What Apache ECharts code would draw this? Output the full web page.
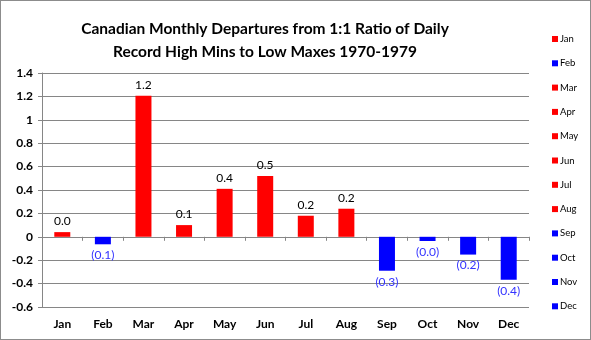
<!DOCTYPE html>
<html>
<head>
<meta charset="utf-8">
<script src="https://cdn.jsdelivr.net/npm/echarts@6/dist/echarts.min.js"></script>
<style>
  html, body { margin: 0; padding: 0; background: #fff; }
  #chart { width: 589px; height: 338px; border: 1px solid #8c8c8c; }
</style>
</head>
<body>
<div id="chart"></div>
<script>
// Monthly departures from a 1:1 ratio of record high minimums to record low maximums, Canada 1970-1979
const months = ['Jan', 'Feb', 'Mar', 'Apr', 'May', 'Jun', 'Jul', 'Aug', 'Sep', 'Oct', 'Nov', 'Dec'];
const departures = [0.04, -0.064, 1.206, 0.10, 0.41, 0.52, 0.18, 0.24, -0.29, -0.036, -0.152, -0.367];
const barColors = ['#ff0000', '#0000ff', '#ff0000', '#ff0000', '#ff0000', '#ff0000',
                   '#ff0000', '#ff0000', '#0000ff', '#0000ff', '#0000ff', '#0000ff'];
const yTicks = { min: -0.6, max: 1.4, interval: 0.2 };

const FONT = 'Lato, "Open Sans", sans-serif';
const GRID_COLOR = '#868686';

function fmt(v) {
  return v >= 0 ? v.toFixed(1) : '(' + (-v).toFixed(1) + ')';
}

// One series per month so each month gets its own legend entry; bars overlap at their category.
const series = months.map((m, i) => {
  const v = departures[i];
  return {
    name: m,
    type: 'bar',
    barWidth: 16,
    barGap: '-100%',
    itemStyle: { color: barColors[i] },
    label: {
      show: true,
      position: v >= 0 ? 'top' : 'bottom',
      distance: 5,
      formatter: p => fmt(p.value),
      color: v >= 0 ? '#000000' : '#3333ff',
      fontFamily: FONT,
      fontSize: 12
    },
    data: months.map((_, j) => (j === i ? v : '-'))
  };
});

const chart = echarts.init(document.getElementById('chart'));
chart.setOption({
  animation: false,
  title: {
    text: 'Canadian Monthly Departures from 1:1 Ratio of Daily\nRecord High Mins to Low Maxes 1970-1979',
    left: 259,
    top: 11,
    textAlign: 'center',
    textStyle: { fontFamily: FONT, fontWeight: 'bold', fontSize: 15.5, lineHeight: 23, color: '#000' }
  },
  legend: {
    orient: 'vertical',
    left: 546,
    top: 28,
    itemWidth: 6,
    itemHeight: 6,
    itemGap: 14.3,
    icon: 'rect',
    textStyle: { fontFamily: FONT, fontSize: 9.5, color: '#000', padding: [0, 0, 0, -3] },
    data: months
  },
  grid: { left: 41, right: 61, top: 72, bottom: 32 },
  xAxis: [
    {
      type: 'category',
      data: months,
      axisLine: { onZero: true, lineStyle: { color: GRID_COLOR } },
      axisTick: { show: true, length: 4, lineStyle: { color: GRID_COLOR } },
      axisLabel: { show: false }
    },
    {
      type: 'category',
      data: months,
      position: 'bottom',
      axisLine: { show: false, onZero: false },
      axisTick: { show: false },
      axisLabel: { fontFamily: FONT, fontWeight: 'bold', fontSize: 12, color: '#000', margin: 11 }
    }
  ],
  yAxis: {
    type: 'value',
    min: yTicks.min,
    max: yTicks.max,
    interval: yTicks.interval,
    axisLine: { show: true, lineStyle: { color: GRID_COLOR } },
    axisTick: { show: true, length: 4, lineStyle: { color: GRID_COLOR } },
    splitLine: { lineStyle: { color: GRID_COLOR } },
    axisLabel: {
      fontFamily: FONT, fontWeight: 'bold', fontSize: 12, color: '#000', margin: 9,
      formatter: v => String(Math.round(v * 10) / 10)
    }
  },
  series: series
});
</script>
</body>
</html>
